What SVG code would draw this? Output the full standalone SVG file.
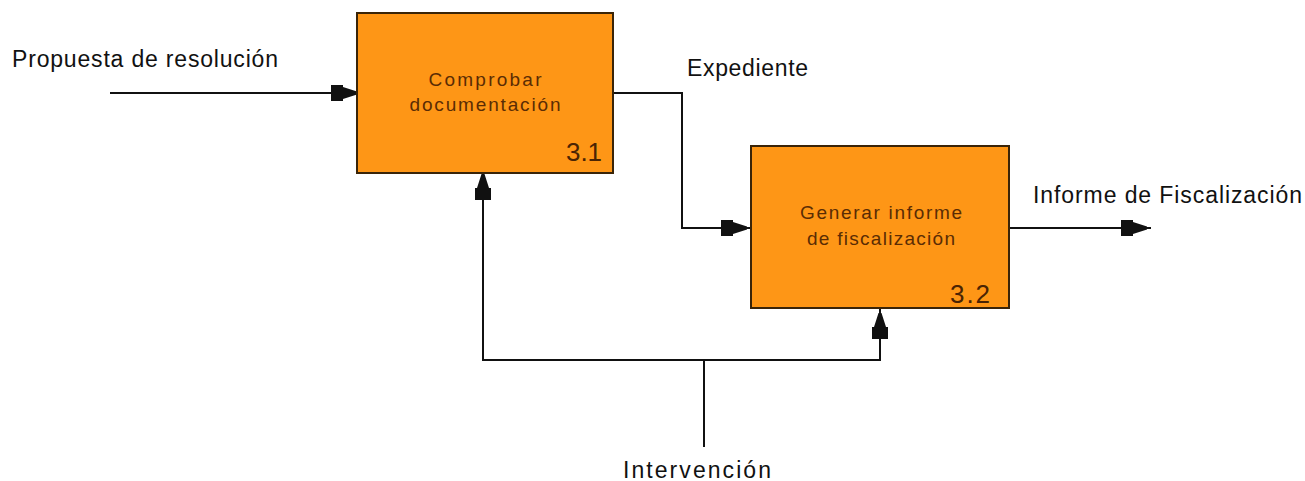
<svg xmlns="http://www.w3.org/2000/svg" width="1305" height="481" viewBox="0 0 1305 481">
<style>
.box{fill:#fe9616;stroke:#3a2408;stroke-width:2}
.btxt{font-family:"Liberation Sans",Arial,sans-serif;font-size:19px;fill:#5a2c04;text-anchor:middle}
.num{font-family:"Liberation Sans",Arial,sans-serif;font-size:26px;fill:#4a2404}
.lbl{font-family:"Liberation Sans",Arial,sans-serif;font-size:23px;fill:#111}
.wire{fill:none;stroke:#111;stroke-width:2}
</style>
<defs>
<marker id="arr" markerUnits="userSpaceOnUse" viewBox="0 -9 34 18" refX="30" refY="0" markerWidth="34" markerHeight="18" orient="auto">
<path d="M0,-8 L12,-8 L12,-6 L26,-1.5 L26,1.5 L12,6 L12,8 L0,8 Z" fill="#111"/>
</marker>
</defs>
<rect width="1305" height="481" fill="#fff"/>
<g id="connectors">
<path class="wire" d="M110,93 H361" marker-end="url(#arr)"/>
<path class="wire" d="M614,93 H682 V228 H751" marker-end="url(#arr)"/>
<path class="wire" d="M1009,228 H1151" marker-end="url(#arr)"/>
<path class="wire" d="M704,447 V360 H483 V170" marker-end="url(#arr)"/>
<path class="wire" d="M704,360 H880 V309" marker-end="url(#arr)"/>
</g>
<g id="node-3-1">
<rect class="box" x="357" y="13" width="256" height="160"/>
<text class="btxt" x="485" y="86" textLength="113" lengthAdjust="spacing">Comprobar</text>
<text class="btxt" x="485" y="111" textLength="151" lengthAdjust="spacing">documentación</text>
<text class="num" x="566" y="161" textLength="36">3.1</text>
</g>
<g id="node-3-2">
<rect class="box" x="751" y="146" width="258" height="162"/>
<text class="btxt" x="881" y="219" textLength="162" lengthAdjust="spacing">Generar informe</text>
<text class="btxt" x="881" y="245" textLength="148" lengthAdjust="spacing">de fiscalización</text>
<text class="num" x="950" y="303" textLength="40">3.2</text>
</g>
<g id="labels">
<text class="lbl" x="12" y="67" textLength="266" lengthAdjust="spacing">Propuesta de resolución</text>
<text class="lbl" x="687" y="76" textLength="121" lengthAdjust="spacing">Expediente</text>
<text class="lbl" x="1033" y="203" textLength="269" lengthAdjust="spacing">Informe de Fiscalización</text>
<text class="lbl" x="623" y="478" textLength="148" lengthAdjust="spacing">Intervención</text>
</g>
</svg>
